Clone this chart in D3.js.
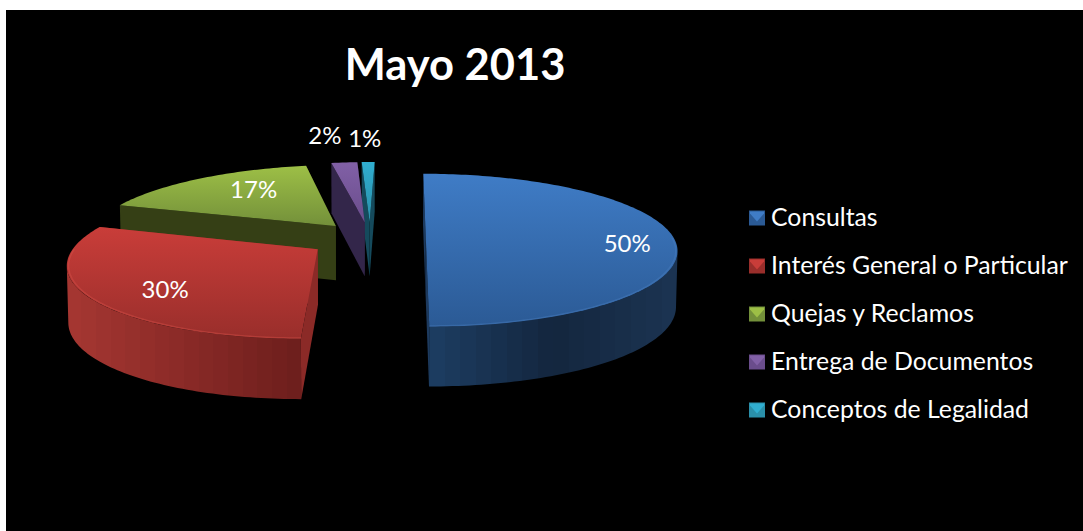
<!DOCTYPE html>
<html><head><meta charset="utf-8">
<script src="https://cdn.jsdelivr.net/npm/d3@7"></script>
<style>html,body{margin:0;padding:0;background:#fff}svg{display:block}text{font-family:Lato,"Open Sans",sans-serif;fill:#fff}</style>
</head><body><div id="c"></div>
<script>
const title = "Mayo 2013";
const categories = ["Consultas","Interés General o Particular","Quejas y Reclamos","Entrega de Documentos","Conceptos de Legalidad"];
const values = [50,30,17,2,1];
const topHi   = ["#3f7cc6","#c93d39","#9dbf46","#8160a6","#30aed0"];
const topLo   = ["#2b5a95","#992e2b","#73903a","#6a4d8c","#2a8fa9"];
const rimCols = [["#1d3d62","#13263e","#1b3452"],["#a63732","#8a2a27","#6c1e1c"],["#353f15","#353f15","#353f15"],["#33264a","#33264a","#33264a"],["#154a5c","#154a5c","#154a5c"]];
const wallCols = ["#1d3a5e","#8b2a27","#353f15","#33264a","#154a5c"];
const bevelCols = ["#4a80c0","#d9524c","#a8c45a","#8c6cb0","#40b8d8"];
const explode = [0.225,0.25,0.22,0.22,0.22];
const radiusScale = [1,0.965,1,1,1];
const labelRadius = [0.8,0.75,0.52,1.38,1.34];
const labelNudge = [[3,4],[14,4],[-8,-12],[-13,-9],[-3,-8]];
const paintOrder = [4,3,2,0,1];

const W=1083,H=531,cx=370,cy=238,a=248,b=6,c=74.5,p=0.16,depth=55,p2=0.08,bands=16;
const svg=d3.select("#c").append("svg").attr("width",W).attr("height",H);
const defs=svg.append("defs");
svg.append("rect").attr("x",6).attr("y",10).attr("width",W-6).attr("height",H-10).attr("fill","#000");

function project(x,y,low){
  const w=1+p*y; let X=cx+(a*x+b*y)/w, Y=cy-c*y/w;
  if(low){X=cx+(X-cx)*0.995;Y+=depth/(1+p2*y);}
  return [X,Y];
}
const line=d3.line();
const pie=d3.pie().sort(null).value(d=>d)(values);
const samples=(t0,t1,step=0.02)=>{const n=Math.max(2,Math.ceil((t1-t0)/step));return d3.range(n+1).map(i=>t0+(t1-t0)*i/n);};

function grad(id,stops,vert){
  const g=defs.append("linearGradient").attr("id",id).attr("x1",0).attr("y1",0).attr("x2",vert?0:1).attr("y2",vert?1:0);
  stops.forEach((s,i)=>g.append("stop").attr("offset",i/(stops.length-1)).attr("stop-color",s));
}
categories.forEach((_,i)=>{
  grad("top"+i,[topHi[i],topLo[i]],true);
  const col=d3.scaleLinear().domain([0,.5,1]).range(rimCols[i]);
  const g=defs.append("linearGradient").attr("id","rim"+i).attr("x1",0).attr("y1",0).attr("x2",1).attr("y2",0);
  d3.range(bands).forEach(k=>{
    g.append("stop").attr("offset",k/bands).attr("stop-color",col((k+.5)/bands));
    g.append("stop").attr("offset",(k+1)/bands).attr("stop-color",col((k+.5)/bands));
  });
});

const slices=pie.map((d,i)=>{
  const mid=(d.startAngle+d.endAngle)/2, e=explode[i], ex=e*Math.sin(mid), ey=e*Math.cos(mid), R=radiusScale[i];
  const pt=(t,low,r=1)=>project(ex+R*r*Math.sin(t),ey+R*r*Math.cos(t),low);
  return {i,d,mid,ex,ey,pt};
});
paintOrder.forEach(i=>{
  const s=slices[i],t0=s.d.startAngle,t1=s.d.endAngle,g=svg.append("g");
  const apex=[project(s.ex,s.ey,false),project(s.ex,s.ey,true)];
  const wall=t=>line([apex[0],s.pt(t,false),s.pt(t,true),apex[1]])+"Z";
  g.append("path").attr("d",wall(t1)).attr("fill",wallCols[i]);
  g.append("path").attr("d",wall(t0)).attr("fill",wallCols[i]);
  const r0=Math.max(t0,Math.PI/2),r1=Math.min(t1,Math.PI*1.5);
  if(r1>r0){
    let ts=samples(r0,r1);
    const xs=ts.map(t=>s.pt(t,false)[0]);
    // keep only the part of the rim that faces the viewer: stop at the silhouette
    if(t0<Math.PI/2) ts=ts.slice(d3.maxIndex(xs));
    if(t1>Math.PI*1.5) ts=ts.slice(0,d3.minIndex(xs)+1);
    g.append("path").attr("d",line([...ts.map(t=>s.pt(t,false)),...ts.slice().reverse().map(t=>s.pt(t,true))])+"Z").attr("fill",`url(#rim${i})`);
  }
  const arc=samples(t0,t1).map(t=>s.pt(t,false));
  g.append("path").attr("d",line([apex[0],...arc])+"Z").attr("fill",`url(#top${i})`);
  if(r1>r0) g.append("path").attr("d",line(samples(r0,r1).map(t=>s.pt(t,false,0.993)))).attr("fill","none").attr("stroke",bevelCols[i]).attr("stroke-width",1.5).attr("stroke-opacity",0.4);
});
slices.forEach(s=>{
  const [X,Y]=s.pt(s.mid,false,labelRadius[s.i]);
  svg.append("text").attr("x",X+labelNudge[s.i][0]).attr("y",Y+labelNudge[s.i][1]).attr("text-anchor","middle").attr("dominant-baseline","central").attr("font-size",24).text(values[s.i]+"%");
});
svg.append("text").attr("x",455).attr("y",80).attr("text-anchor","middle").attr("font-size",43.5).attr("font-weight",700).text(title);

const rowY=d3.scalePoint().domain(categories).range([218,410]);
const leg=svg.selectAll("g.leg").data(categories).join("g").attr("class","leg").attr("transform",d=>`translate(749,${rowY(d)-7.5})`);
leg.append("rect").attr("width",16).attr("height",15).attr("fill",(d,i)=>topLo[i]);
leg.append("path").attr("d",line([[1,1],[15,1],[15,3],[8,11],[1,3]])+"Z").attr("fill",(d,i)=>topHi[i]);
leg.append("text").attr("x",22).attr("y",6).attr("dominant-baseline","central").attr("font-size",24.8).text(d=>d);
</script></body></html>
